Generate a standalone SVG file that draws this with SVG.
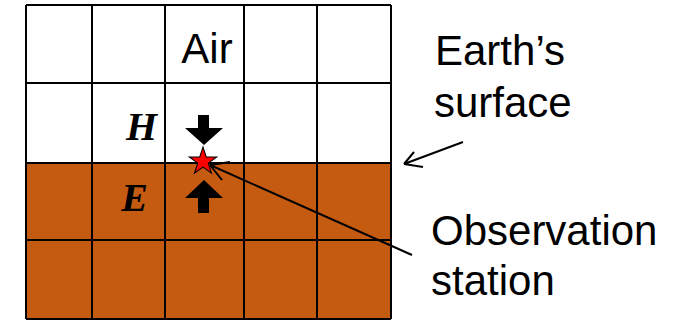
<svg xmlns="http://www.w3.org/2000/svg" width="682" height="321" viewBox="0 0 682 321">
<style>
.grid{stroke:#000;stroke-width:2;fill:none}
.lbl{font-family:"Liberation Sans",Arial,sans-serif;font-size:42px;fill:#000}
.var{font-family:"Liberation Serif","Times New Roman",serif;font-weight:bold;font-style:italic;font-size:40px;fill:#000}
.conn{stroke:#000;stroke-width:2;fill:none}
</style>
<rect width="682" height="321" fill="#fff"/>
<g id="ground">
<rect x="26" y="163" width="365" height="156" fill="#C55A11"/>
</g>
<g id="grid">
<path class="grid" d="M26 5V319M92 5V319M165 5V319M244 5V319M317 5V319M391 5V319M26 5H391M26 83H391M26 163H391M26 240H391M26 319H391"/>
</g>
<g id="air"><text class="lbl" x="207" y="63" text-anchor="middle">Air</text></g>
<g id="H"><text class="var" x="157" y="140" text-anchor="end">H</text></g>
<g id="E"><text class="var" x="148" y="211" text-anchor="end">E</text></g>
<g id="arrow-down"><polygon points="198,115 209,115 209,128 223,128 204,145 185,128 198,128" fill="#000"/></g>
<g id="arrow-up"><polygon points="198,213 209,213 209,198 223,198 204,180 185,198 198,198" fill="#000"/></g>
<g id="connectors">
<path class="conn" d="M463 142L404 164M404 164L423 167M404 164L414 152"/>
<path class="conn" d="M412 255L210 165M210 165L230 162M210 165L222 180"/>
</g>
<g id="station">
<polygon transform="translate(203,161.5) scale(14.5)" points="0,-1 0.2245,-0.309 0.951,-0.309 0.3633,0.118 0.5878,0.809 0,0.382 -0.5878,0.809 -0.3633,0.118 -0.951,-0.309 -0.2245,-0.309" fill="#f00" stroke="#000" stroke-width="0.07"/>
</g>
<g id="earth-label"><text class="lbl" x="435" y="65">Earth’s</text><text class="lbl" x="434" y="117">surface</text></g>
<g id="station-label"><text class="lbl" x="431" y="245">Observation</text><text class="lbl" x="431" y="295">station</text></g>
</svg>
